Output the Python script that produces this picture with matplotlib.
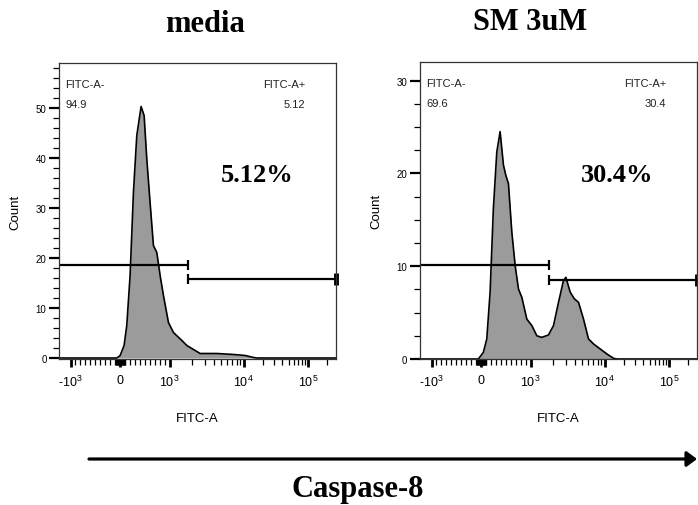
import numpy as np
import matplotlib
matplotlib.use("Agg")
import matplotlib.pyplot as plt

plt.rcParams["font.family"] = ["Liberation Sans", "DejaVu Sans"]
plt.rcParams["mathtext.fontset"] = "custom"
plt.rcParams["mathtext.rm"] = "Liberation Sans"
plt.rcParams["mathtext.it"] = "Liberation Sans:italic"
plt.rcParams["mathtext.bf"] = "Liberation Sans:bold"

# histogram traces (FITC-A value, count)
media_x = [-1430, -67, 0, 81, 135, 202, 269, 337, 424, 485, 539, 606, 673, 741, 808,
           875, 976, 1126, 1462, 1707, 2098, 2583, 4341, 7287, 10550, 14220, 16070, 275000]
media_y = [0, 0, 0.47, 2.5, 6.5, 16.5, 33, 44.5, 50.3, 48.5, 39.8, 31, 22.5, 21.1, 16.5,
           12.5, 7.1, 5.1, 3.5, 2.5, 1.7, 0.9, 0.9, 0.7, 0.5, 0.1, 0, 0]

sm_x = [-1430, -55, 46, 115, 182, 248, 317, 384, 451, 499, 552, 620, 687, 754, 822, 923,
        1038, 1213, 1416, 1740, 2034, 2376, 2773, 2991, 3420, 3873, 4429, 5171, 6039,
        7063, 8690, 10810, 13740, 15490, 275000]
sm_y = [0, 0, 0.72, 2.16, 7.2, 16.2, 22.3, 24.5, 20.9, 19.8, 18.9, 13.7, 10.1, 7.55, 6.65,
        4.3, 3.6, 2.5, 2.33, 2.59, 3.6, 6.1, 8.45, 8.8, 7.2, 6.5, 6.1, 4.3, 2.16, 1.62,
        1.08, 0.54, 0.07, 0, 0]

titles = ["media", "SM 3uM"]
neg_pct = ["94.9", "69.6"]
pos_pct = ["5.12", "30.4"]
big_labels = ["5.12%", "30.4%"]
gate_split = 1780
gate_neg_y = [18.7, 10.1]
gate_pos_y = [15.8, 8.55]
y_max = [59, 32]
y_major = [[0, 10, 20, 30, 40, 50], [0, 10, 20, 30]]
y_minor_step = [2, 2.5]

x_major = [-1000, 0, 1000, 10000, 100000]
x_major_labels = ["-10$^{3}$", "0", "10$^{3}$", "10$^{4}$", "10$^{5}$"]
x_minor = ([-100 * k for k in range(1, 10)] + [-10 * k for k in range(1, 10)]
           + [10 * k for k in range(1, 10)] + [100 * k for k in range(1, 10)]
           + [1000 * k for k in range(2, 10)] + [10000 * k for k in range(2, 10)] + [200000])
x_lim = (-1430, 275000)


# biexponential-like display scale (linear around zero, log outside)
def fwd(x):
    x = np.asarray(x, dtype=float)
    a = np.abs(x)
    d = np.log10(np.maximum(a, 1000.0) / 1000.0)
    u = np.where(a <= 1000, a / 1000.0,
                 1 + 1.495 * np.minimum(d, 1) + 1.293 * np.maximum(d - 1, 0))
    return np.sign(x) * u


def inv(u):
    u = np.asarray(u, dtype=float)
    b = np.clip(np.abs(u), 0, 20)
    d = np.where(b <= 2.495, (b - 1) / 1.495, 1 + (b - 2.495) / 1.293)
    x = np.where(b <= 1, b * 1000.0, 1000.0 * 10 ** np.maximum(d, 0))
    return np.sign(u) * x


fig = plt.figure(figsize=(6.98, 5.06), dpi=100)
W, H = 698.0, 506.0
rects = [[59 / W, 146 / H, 277 / W, 296 / H],
         [420 / W, 146 / H, 277 / W, 297 / H]]
traces = [(media_x, media_y), (sm_x, sm_y)]
big_pos = [(257, 175), (617, 175)]
title_pos = [(205, 25), (530, 22)]

for i in range(2):
    ax = fig.add_axes(rects[i])
    ax.set_xscale("function", functions=(fwd, inv))
    xs, ys = traces[i]
    ax.fill_between(xs, 0, ys, color="#9b9b9b", lw=0)
    ax.plot(xs, ys, color="black", lw=1.2)
    ax.set_xlim(*x_lim)
    ax.set_ylim(-0.2 if i == 0 else 0, y_max[i])

    ax.set_xticks(x_major)
    ax.set_xticklabels(x_major_labels)
    ax.set_xticks(x_minor, minor=True)
    ax.set_yticks(y_major[i])
    ax.set_yticks(np.arange(0, y_max[i], y_minor_step[i]), minor=True)
    ax.tick_params(axis="x", which="major", length=6, width=2, labelsize=9, pad=5)
    ax.tick_params(axis="x", which="minor", length=4, width=0.9)
    ax.tick_params(axis="y", which="major", length=7, width=1.6, labelsize=7, pad=2)
    ax.tick_params(axis="y", which="minor", length=4, width=0.9)
    for s in ax.spines.values():
        s.set_linewidth(0.9)
        s.set_color("#333333")

    ax.set_xlabel("FITC-A", fontsize=9.5)
    ax.xaxis.set_label_coords(0.5, -0.178)
    ax.set_ylabel("Count", fontsize=9.5)
    ax.yaxis.set_label_coords(-0.135, 0.5)

    # gates
    ax.plot([x_lim[0], gate_split], [gate_neg_y[i]] * 2, color="black", lw=1.6,
            solid_capstyle="butt", clip_on=False)
    ax.plot([gate_split], [gate_neg_y[i]], marker="|", ms=7, mew=1.6, color="black")
    ax.plot([gate_split, x_lim[1]], [gate_pos_y[i]] * 2, color="black", lw=1.6,
            solid_capstyle="butt", clip_on=False)
    ax.plot([gate_split], [gate_pos_y[i]], marker="|", ms=7, mew=1.6, color="black")
    ax.plot([x_lim[1]], [gate_pos_y[i]], marker="|", ms=8, mew=3.5, color="black",
            clip_on=False)

    ax.text(0.022, 0.93, "FITC-A-", transform=ax.transAxes, fontsize=8, va="center",
            ha="left", color="#222222")
    ax.text(0.022, 0.863, neg_pct[i], transform=ax.transAxes, fontsize=8, va="center",
            ha="left", color="#222222")
    ax.text(0.889, 0.93, "FITC-A+", transform=ax.transAxes, fontsize=8, va="center",
            ha="right", color="#222222")
    ax.text(0.889, 0.863, pos_pct[i], transform=ax.transAxes, fontsize=8, va="center",
            ha="right", color="#222222")

    bx, by = big_pos[i]
    fig.text(bx / W, 1 - by / H, big_labels[i], ha="center", va="center", fontsize=19,
             fontweight="bold", family="Liberation Serif")
    tx, ty = title_pos[i]
    fig.text(tx / W, 1 - ty / H, titles[i], ha="center", va="center", fontsize=22,
             fontweight="bold", family="Liberation Serif")

# Caspase-8 arrow
ax.annotate("", xy=(697 / W, 1 - 460 / H), xytext=(89 / W, 1 - 460 / H),
            xycoords="figure fraction", textcoords="figure fraction",
            annotation_clip=False,
            arrowprops=dict(arrowstyle="-|>,head_length=0.6,head_width=0.45",
                            lw=2.3, color="black", mutation_scale=10,
                            shrinkA=0, shrinkB=0))
fig.text(358 / W, 1 - 497 / H, "Caspase-8", ha="center", va="baseline", fontsize=22,
         fontweight="bold", family="Liberation Serif")

fig.savefig("out.png", dpi=100)
